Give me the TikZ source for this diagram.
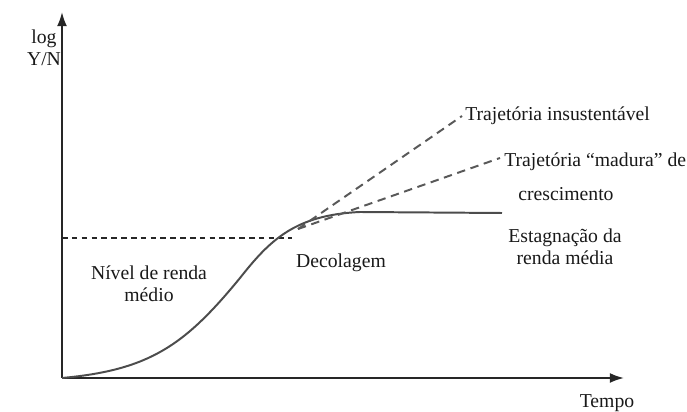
\documentclass[tikz,border=0pt]{standalone}
\usepackage{fontspec}
\setmainfont{Liberation Serif}
\usetikzlibrary{calc,arrows.meta}

\begin{document}
\begin{tikzpicture}[x=0.025cm,y=-0.025cm,
    rotulo/.style={font=\fontsize{14}{15.6}\selectfont,text=black!90,inner sep=0pt,align=center},
    eixo/.style={line width=1.3pt,black!85,-{Latex[length=10pt,width=7pt]}},
    tracejada/.style={line width=1.4pt,black!65,dash pattern=on 6pt off 4pt}]
            \useasboundingbox (0,0) rectangle (687,412);

            % eixos
            \coordinate (O) at (62,378);
            \coordinate (Ytopo) at (62,12);
            \coordinate (Xfim) at (624,378);
            \draw[eixo] (O) -- (Ytopo);
            \draw[eixo] (O) -- (Xfim);
            \node[rotulo] (logYN) at (44,48) {log\\Y/N};
            \node[rotulo] (tempo) at (607,403) {Tempo};

            % nivel de renda medio
            \coordinate (Mesq) at (62,238);
            \coordinate (Mdir) at (292,238);
            \draw[black!85,line width=0.8pt,dash pattern=on 4pt off 3pt] (Mesq) -- (Mdir);

            % curva de crescimento
            \coordinate (I) at (240,278); % ponto de inflexao
            \coordinate (P) at (360,212);
            \coordinate (Fim) at (502,213);
            \draw[line width=1.4pt,black!70] (O) .. controls (150,370) and (185,345) .. (I)
                .. controls (270,240) and (295,215) .. (P) -- (Fim);

            % trajetorias alternativas
            \coordinate (Saida) at (298,229);
            \coordinate (Tins) at (462,116);
            \coordinate (Tmad) at (500,158);
            \draw[tracejada] (Saida) -- (Tins);
            \draw[tracejada] (Saida) -- (Tmad);

            % rotulos
            \node[rotulo,anchor=west] (insust) at (465,116) {Trajetória insustentável};
            \node[rotulo,anchor=west] (madura) at (504,162) {Trajetória ``madura'' de};
            \node[rotulo] (cresc) at (566,194) {crescimento};
            \node[rotulo] (estag) at (565,247) {Estagnação da\\renda média};
            \node[rotulo] (decol) at (341,263) {Decolagem};
            \node[rotulo] (nivel) at (149,284) {Nível de renda\\médio};
        \end{tikzpicture}
\end{document}
